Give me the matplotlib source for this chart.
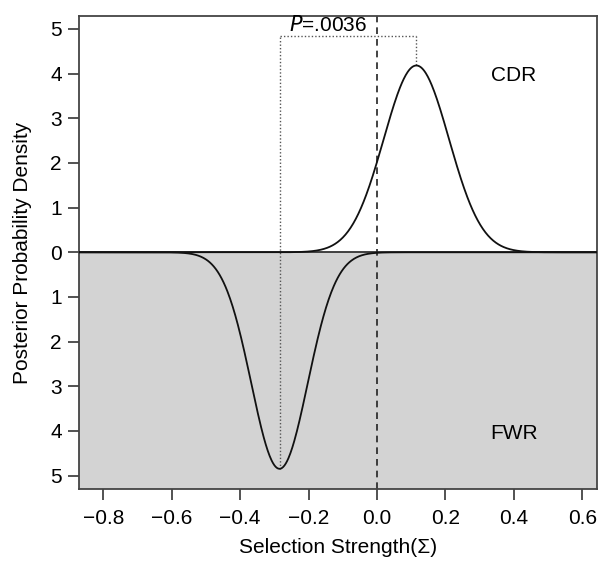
import numpy as np
import matplotlib.pyplot as plt
import matplotlib as mpl

mpl.rcParams.update({'font.family': ['Liberation Sans', 'DejaVu Sans'], 'font.size': 15})

# posterior densities (normal shape)
cdr_mean, cdr_sd = 0.115, 0.0954
fwr_mean, fwr_sd = -0.285, 0.0823
p_text = '.0036'
x_ticks = [-0.8, -0.6, -0.4, -0.2, 0.0, 0.2, 0.4, 0.6]
y_ticks = [-5, -4, -3, -2, -1, 0, 1, 2, 3, 4, 5]


def npdf(x, m, s):
    return np.exp(-0.5 * ((x - m) / s) ** 2) / (s * np.sqrt(2 * np.pi))


xlim = (-0.871, 0.643)
ylim = (-5.30, 5.29)
x = np.linspace(xlim[0], xlim[1], 800)
cdr = npdf(x, cdr_mean, cdr_sd)
fwr = -npdf(x, fwr_mean, fwr_sd)
cdr_peak = npdf(cdr_mean, cdr_mean, cdr_sd)
fwr_peak = npdf(fwr_mean, fwr_mean, fwr_sd)

fig = plt.figure(figsize=(6.0, 5.61), dpi=100)
ax = fig.add_axes([0.1317, 0.1283, 0.8633, 0.8432])
ax.set_xlim(*xlim)
ax.set_ylim(*ylim)

ax.axhspan(ylim[0], 0, color='#d3d3d3', zorder=0, lw=0)
ax.axhline(0, color='#333333', lw=1.3, zorder=2)
ax.plot(x, cdr, color='#111111', lw=1.3, zorder=3)
ax.plot(x, fwr, color='#111111', lw=1.3, zorder=3)
ax.axvline(0, color='#222222', lw=1.2, ls=(0, (4, 3)), zorder=2)

# bracket for the P value
top = fwr_peak
dot = dict(color='#555555', lw=1.0, ls=(0, (1, 1.5)), zorder=2)
ax.plot([fwr_mean, fwr_mean], [-fwr_peak, top], **dot)
ax.plot([cdr_mean, cdr_mean], [cdr_peak, top], **dot)
ax.plot([fwr_mean, cdr_mean], [top, top], **dot)
ax.text(-0.143, top + 0.02, r'$\it{P}$=' + p_text, ha='center', va='bottom', fontsize=15)

ax.text(0.40, 3.96, 'CDR', ha='center', va='center', fontsize=15)
ax.text(0.40, -4.06, 'FWR', ha='center', va='center', fontsize=15)

ax.set_xticks(x_ticks)
ax.set_xticklabels(['\u2212%.1f' % abs(v) if v < 0 else '%.1f' % v for v in x_ticks])
ax.set_yticks(y_ticks)
ax.set_yticklabels([str(abs(v)) for v in y_ticks])
ax.tick_params(direction='out', length=8, width=1.3, color='#444444')
ax.tick_params(axis='x', pad=6.5)
ax.tick_params(axis='y', pad=4.3)
for s in ax.spines.values():
    s.set_color('#444444')
    s.set_linewidth(1.3)

ax.set_xlabel('Selection Strength(\u03a3)', fontsize=15, labelpad=7)
ax.set_ylabel('Posterior Probability Density', fontsize=15, labelpad=13)

fig.savefig('out.png', dpi=100)
